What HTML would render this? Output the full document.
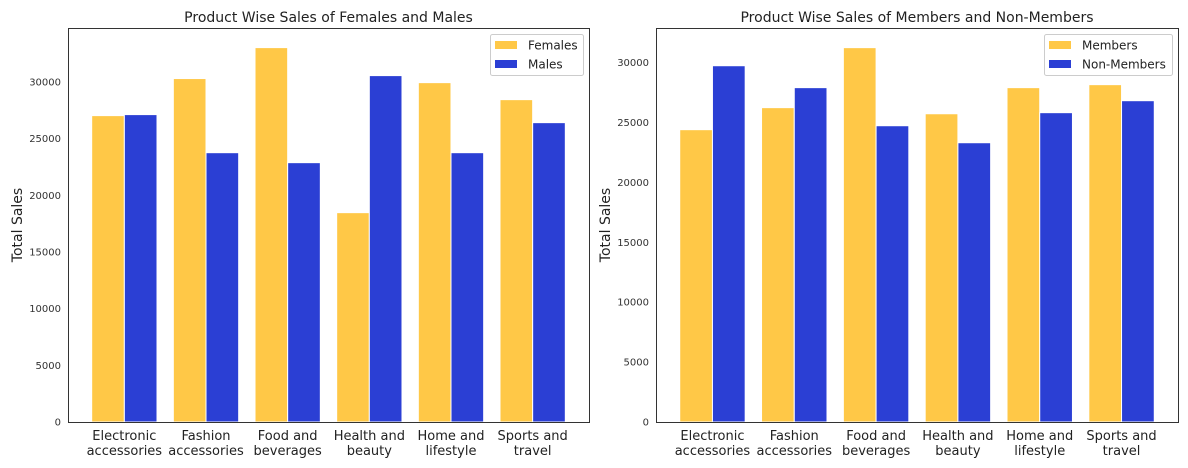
<!DOCTYPE html>
<html><head><meta charset="utf-8"><style>
html,body{margin:0;padding:0;background:#fff;}
svg{display:block;font-family:"DejaVu Sans","Liberation Sans",sans-serif;}
</style></head><body>
<svg id="chart" width="1188" height="468"></svg>
<script>
const categories = [["Electronic","accessories"],["Fashion","accessories"],["Food and","beverages"],["Health and","beauty"],["Home and","lifestyle"],["Sports and","travel"]];
const females = [27030, 30300, 33030, 18470, 29940, 28440];
const males = [27120, 23760, 22880, 30560, 23760, 26410];
const members = [24410, 26250, 31260, 25740, 27920, 28170];
const nonMembers = [29750, 27920, 24740, 23320, 25830, 26830];
const yTicks = [0, 5000, 10000, 15000, 20000, 25000, 30000];

const NS = "http://www.w3.org/2000/svg";
const svg = document.getElementById("chart");
function mk(tag, attrs, parent){
  const e = document.createElementNS(NS, tag);
  for (const k in attrs) e.setAttribute(k, attrs[k]);
  (parent||svg).appendChild(e);
  return e;
}
const YEL = "#FFC847", BLU = "#2B3FD4";

function panel(cfg){
  const g = mk("g", {});
  
  
  const L = cfg.left, R = cfg.right, T = 28, B = 422;
  const n = categories.length;
  const xmin = -0.69, xmax = n - 1 + 0.69;
  const x = v => L + (v - xmin) / (xmax - xmin) * (R - L);
  const y = v => B - v / cfg.ymax * (B - T);
  const bw = 0.4;
  const series = [[cfg.a, YEL, -bw/2], [cfg.b, BLU, bw/2]];
  series.forEach((s, si) => {
    s[0].forEach((v, i) => {
      const cx = x(i + s[2]);
      const w = x(bw) - x(0);
      const r = mk("rect", {x: cx - w/2, y: y(v), width: w, height: y(0) - y(v), fill: s[1], stroke: "#fff", "stroke-width": 1}, g);
      
      
    });
  });
  const fr = mk("rect", {x: L + 0.5, y: T + 0.5, width: R - L, height: B - T, fill: "none", stroke: "#333", "stroke-width": 1}, g);
  
  
  yTicks.forEach(t => {
    if (t > cfg.ymax) return;
    const tx = mk("text", {x: L - 7, y: y(t) + 3.5, "text-anchor": "end", "font-size": 10, fill: "#333"}, g);
    tx.textContent = t;
    
    
  });
  categories.forEach((c, i) => {
    const tx = mk("text", {x: x(i), y: 440, "text-anchor": "middle", "font-size": 13, fill: "#222"}, g);
    
    
    c.forEach((line, j) => {
      const ts = mk("tspan", {x: x(i), dy: j === 0 ? 0 : 15}, tx);
      ts.textContent = line;
    });
  });
  const ti = mk("text", {x: (L + R) / 2, y: 22, "text-anchor": "middle", "font-size": 14, fill: "#222"}, g);
  ti.textContent = cfg.title;
  
  
  const yl = mk("text", {x: 0, y: 0, transform: "translate(" + (L - 46) + "," + ((T + B) / 2) + ") rotate(-90)", "text-anchor": "middle", "font-size": 14, fill: "#222"}, g);
  yl.textContent = "Total Sales";
  
  
  const lg = mk("g", {}, g);
  
  
  mk("rect", {x: cfg.lgx + 0.5, y: 34.5, width: R - 6 - cfg.lgx, height: 41, fill: "#fff", stroke: "#ccc", rx: 2}, lg);
  [[cfg.la, YEL, 45], [cfg.lb, BLU, 64]].forEach(e => {
    const sw = mk("rect", {x: cfg.lgx + 5, y: e[2] - 4, width: 22, height: 8, fill: e[1]}, lg);
    
    
    const lt = mk("text", {x: cfg.lgx + 38, y: e[2] + 4.5, "font-size": 12, fill: "#222"}, lg);
    lt.textContent = e[0];
    
    
  });
}
panel({name: "gender-chart", left: 68, right: 589, ymax: 34760, a: females, b: males, la: "Females", lb: "Males", title: "Product Wise Sales of Females and Males", lgx: 490});
panel({name: "membership-chart", left: 656, right: 1178, ymax: 32900, a: members, b: nonMembers, la: "Members", lb: "Non-Members", title: "Product Wise Sales of Members and Non-Members", lgx: 1044});
</script>
</body></html>
